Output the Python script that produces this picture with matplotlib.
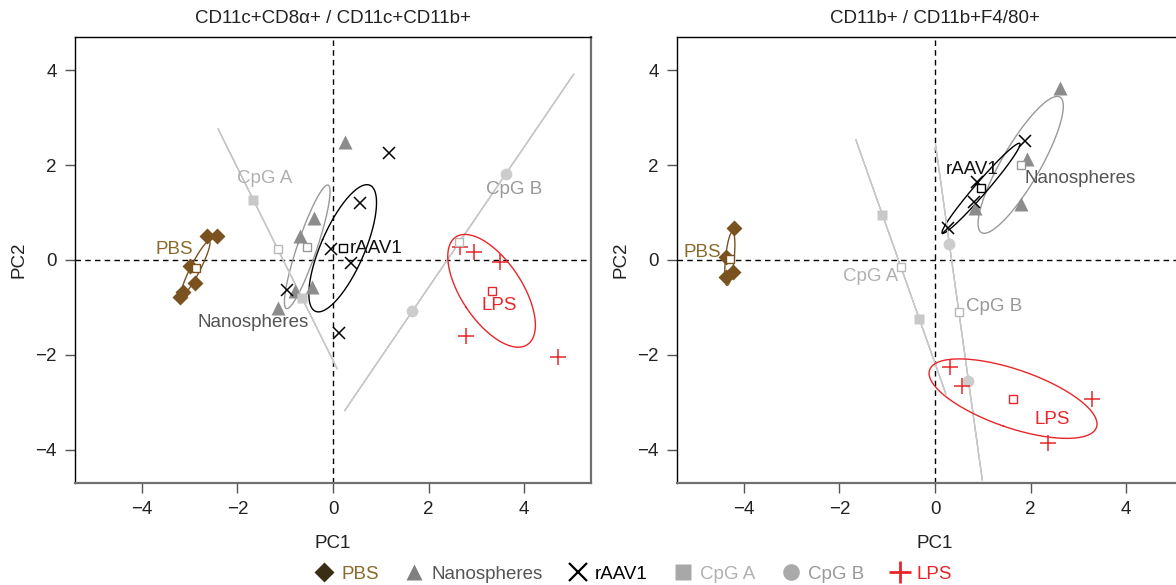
import numpy as np
import matplotlib
matplotlib.use("Agg")
import matplotlib.pyplot as plt
from matplotlib.lines import Line2D

plt.rcParams['font.family'] = ['Liberation Sans', 'DejaVu Sans']

# ---- data (PC1, PC2 per sample) ----
groups = ['PBS', 'Nanospheres', 'rAAV1', 'CpG A', 'CpG B', 'LPS']

# left panel: CD11c+CD8a+ / CD11c+CD11b+
left_pc1 = {
    'PBS': [-2.63, -2.42, -2.99, -2.88, -3.15, -3.20],
    'Nanospheres': [0.26, -0.40, -0.69, -0.45, -0.80, -1.16],
    'rAAV1': [1.17, 0.56, -0.05, 0.37, -0.96, 0.12],
    'CpG A': [-1.67, -0.65],
    'CpG B': [3.62, 1.66],
    'LPS': [2.65, 2.96, 3.50, 2.78, 4.70],
}
left_pc2 = {
    'PBS': [0.51, 0.51, -0.13, -0.49, -0.68, -0.78],
    'Nanospheres': [2.48, 0.89, 0.51, -0.56, -0.65, -1.01],
    'rAAV1': [2.26, 1.21, 0.23, -0.06, -0.63, -1.53],
    'CpG A': [1.27, -0.80],
    'CpG B': [1.82, -1.08],
    'LPS': [0.28, 0.16, -0.05, -1.60, -2.04],
}

# right panel: CD11b+ / CD11b+F4/80+
right_pc1 = {
    'PBS': [-4.21, -4.37, -4.23, -4.37],
    'Nanospheres': [2.61, 1.93, 0.84, 1.79],
    'rAAV1': [1.88, 0.87, 0.82, 0.28],
    'CpG A': [-1.10, -0.33],
    'CpG B': [0.30, 0.70],
    'LPS': [0.31, 0.56, 3.29, 2.37],
}
right_pc2 = {
    'PBS': [0.67, 0.06, -0.26, -0.35],
    'Nanospheres': [3.63, 2.12, 1.10, 1.17],
    'rAAV1': [2.51, 1.64, 1.22, 0.67],
    'CpG A': [0.95, -1.24],
    'CpG B': [0.34, -2.55],
    'LPS': [-2.25, -2.65, -2.93, -3.86],
}

# group label positions (layout)
left_label_xy = {
    'PBS': (-3.33, 0.23), 'Nanospheres': (-1.67, -1.32), 'rAAV1': (0.90, 0.24),
    'CpG A': (-1.43, 1.72), 'CpG B': (3.78, 1.48), 'LPS': (3.47, -0.96),
}
right_label_xy = {
    'PBS': (-4.87, 0.16), 'Nanospheres': (3.04, 1.71), 'rAAV1': (0.78, 1.90),
    'CpG A': (-1.34, -0.34), 'CpG B': (1.23, -0.98), 'LPS': (2.46, -3.37),
}

# ---- styles ----
marker = {'PBS': 'D', 'Nanospheres': '^', 'rAAV1': 'x', 'CpG A': 's', 'CpG B': 'o', 'LPS': '+'}
msize = {'PBS': 8, 'Nanospheres': 10, 'rAAV1': 9, 'CpG A': 7.5, 'CpG B': 8.5, 'LPS': 12}
pt_color = {'PBS': '#7a5220', 'Nanospheres': '#8c8c8c', 'rAAV1': '#000000',
            'CpG A': '#c8c8c8', 'CpG B': '#cccccc', 'LPS': '#e8262a'}
ell_color = {'PBS': '#7a5220', 'Nanospheres': '#999999', 'rAAV1': '#000000',
             'CpG A': '#c8c8c8', 'CpG B': '#c8c8c8', 'LPS': '#e8262a'}
txt_color = {'PBS': '#8a6a2a', 'Nanospheres': '#555555', 'rAAV1': '#111111',
             'CpG A': '#b0b0b0', 'CpG B': '#999999', 'LPS': '#e8262a'}
leg_color = {'PBS': '#3a2e12', 'Nanospheres': '#808080', 'rAAV1': '#000000',
             'CpG A': '#a8a8a8', 'CpG B': '#aaaaaa', 'LPS': '#e8262a'}

FS = 13.5


def conf_ellipse(x, y, n_pts=200):
    # 95% confidence ellipse of the group mean
    x = np.asarray(x); y = np.asarray(y)
    m = np.array([x.mean(), y.mean()])
    cov = np.cov(x, y) / len(x)
    vals, vecs = np.linalg.eigh(cov)
    vals = np.clip(vals, 0, None)
    r = np.sqrt(5.991)
    t = np.linspace(0, 2 * np.pi, n_pts)
    circ = np.vstack([np.cos(t), np.sin(t)])
    pts = vecs @ (np.sqrt(vals)[:, None] * circ) * r
    return m, pts[0] + m[0], pts[1] + m[1]


def draw_panel(ax, pc1, pc2, label_xy, title):
    ax.axhline(0, color='black', lw=1.0, ls=(0, (4, 3)), zorder=1)
    ax.axvline(0, color='black', lw=1.0, ls=(0, (4, 3)), zorder=1)
    for g in groups:
        x, y = pc1[g], pc2[g]
        m, ex, ey = conf_ellipse(x, y)
        ax.plot(ex, ey, color=ell_color[g], lw=1.0, zorder=2)
        if marker[g] in ('x', '+'):
            ax.plot(x, y, ls='none', marker=marker[g], ms=msize[g],
                    color=pt_color[g], mew=1.1, zorder=3)
        else:
            ax.plot(x, y, ls='none', marker=marker[g], ms=msize[g],
                    color=pt_color[g], mec='none', zorder=3)
        ax.plot(m[0], m[1], ls='none', marker='s', ms=6, mfc='white',
                mec=ell_color[g] if g not in ('CpG A', 'CpG B') else '#b8b8b8',
                mew=1.0, zorder=4)
        lx, ly = label_xy[g]
        ax.text(lx, ly, g, color=txt_color[g], fontsize=FS, ha='center',
                va='center', zorder=5)

    ax.set_xlim(-5.4, 5.4)
    ax.set_ylim(-4.7, 4.7)
    ax.set_xticks([-4, -2, 0, 2, 4])
    ax.set_yticks([-4, -2, 0, 2, 4])
    ax.tick_params(labelsize=FS, length=7, width=1.0, color='#555555',
                   labelcolor='#222222', pad=6)
    ax.set_xlabel('PC1', fontsize=FS, labelpad=12, color='#222222')
    ax.set_ylabel('PC2', fontsize=FS, labelpad=6, color='#222222')
    ax.set_title(title, fontsize=FS, pad=10, color='#222222')
    for s in ('top', 'left'):
        ax.spines[s].set_color('black')
        ax.spines[s].set_linewidth(1.0)
    for s in ('bottom', 'right'):
        ax.spines[s].set_color('#707070')
        ax.spines[s].set_linewidth(1.6)


fig = plt.figure(figsize=(11.76, 5.85), dpi=100)
ax1 = fig.add_axes([0.0638, 0.1744, 0.4388, 0.7624])
ax2 = fig.add_axes([0.5757, 0.1744, 0.4388, 0.7624])

draw_panel(ax1, left_pc1, left_pc2, left_label_xy, 'CD11c+CD8\u03b1+ / CD11c+CD11b+')
draw_panel(ax2, right_pc1, right_pc2, right_label_xy, 'CD11b+ / CD11b+F4/80+')

# legend along the bottom
leg_ms = {'PBS': 10, 'Nanospheres': 11, 'rAAV1': 13, 'CpG A': 11, 'CpG B': 12, 'LPS': 16}
handles = []
for g in groups:
    if marker[g] in ('x', '+'):
        h = Line2D([], [], ls='none', marker=marker[g], ms=leg_ms[g],
                   color=leg_color[g], mew=2.0 if g == 'LPS' else 1.6)
    else:
        h = Line2D([], [], ls='none', marker=marker[g], ms=leg_ms[g],
                   color=leg_color[g], mec='none')
    handles.append(h)
leg = fig.legend(handles, groups, loc='center', bbox_to_anchor=(0.538, 0.018),
                 ncol=6, frameon=False, fontsize=FS, handletextpad=0.3,
                 columnspacing=1.3, handlelength=1.2)
for t, g in zip(leg.get_texts(), groups):
    t.set_color(txt_color[g] if g != 'rAAV1' else '#000000')

fig.savefig('out.png', dpi=100, facecolor='white')
